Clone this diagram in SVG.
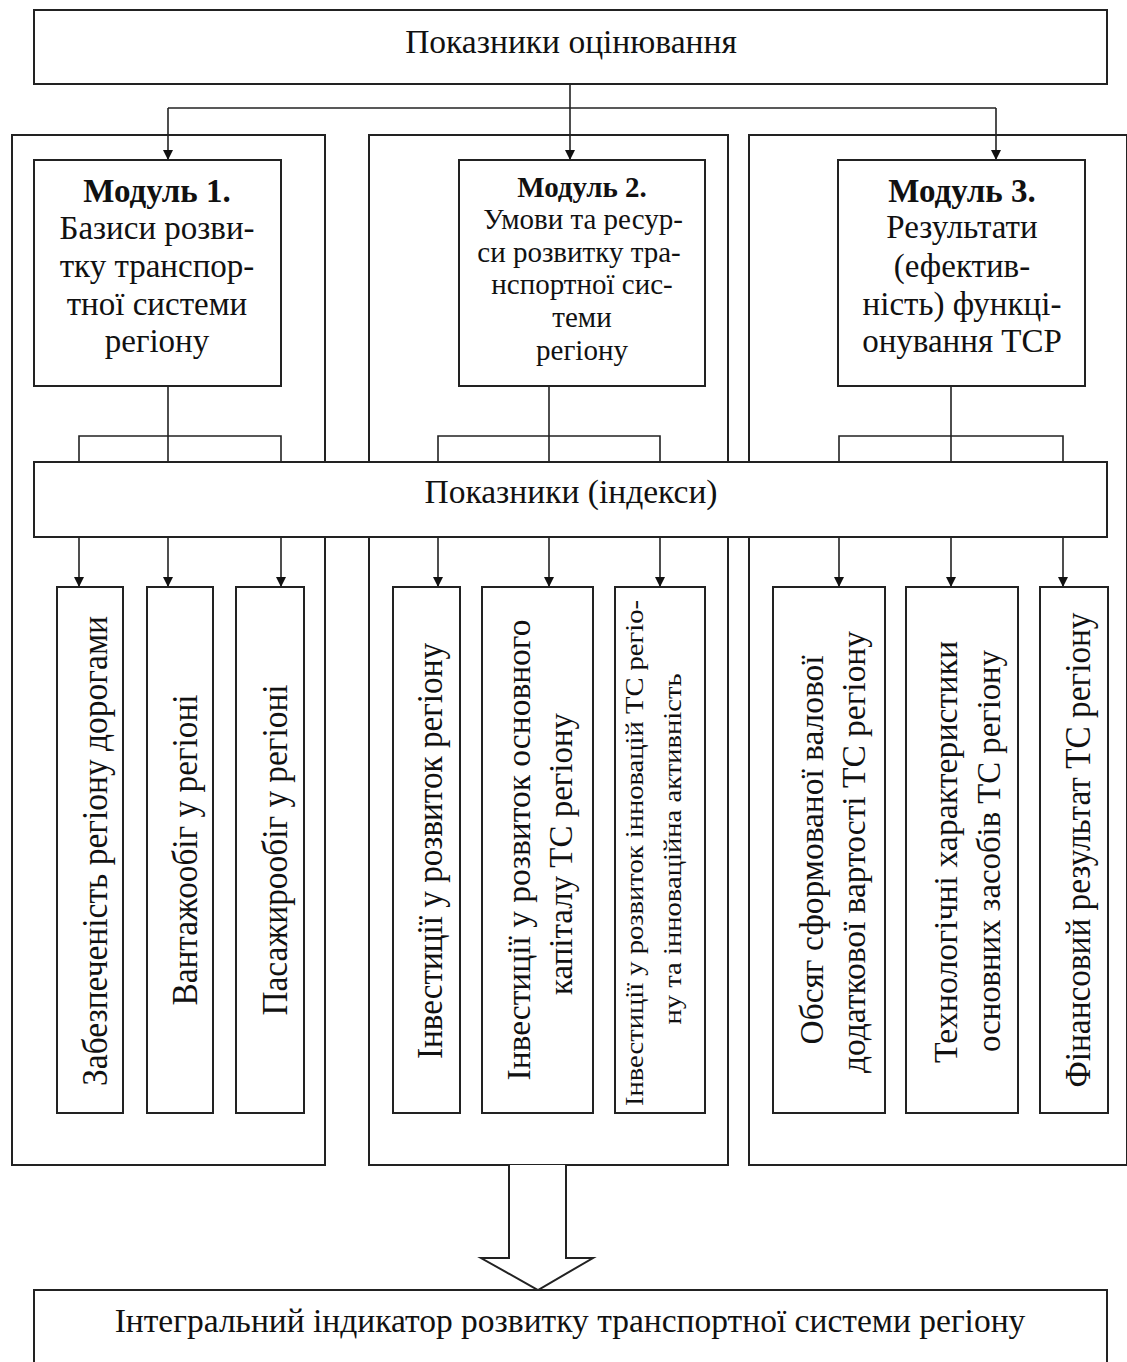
<svg xmlns="http://www.w3.org/2000/svg" width="1127" height="1362" viewBox="0 0 1127 1362">
<style>
.box{fill:#fff;stroke:#222;stroke-width:2}
.panel{fill:none;stroke:#222;stroke-width:2}
.ln{fill:none;stroke:#222;stroke-width:1.6}
text{font-family:"Liberation Serif","Times New Roman",serif;fill:#111}
.h{text-anchor:middle}
.b{font-weight:bold}
.v{text-anchor:middle}
.big{font-size:33.5px}
.m13{font-size:33px}
.m2{font-size:29px}
</style>
<defs>
<marker id="ah" markerUnits="userSpaceOnUse" markerWidth="10" markerHeight="12" refX="10" refY="5" orient="auto">
<path d="M0,0 L10,5 L0,10 z" fill="#111"/>
</marker>
</defs>
<rect width="1127" height="1362" fill="#fff"/>

<g id="panels">
<rect class="panel" x="12" y="135" width="313" height="1030"/>
<rect class="panel" x="369" y="135" width="359" height="1030"/>
<rect class="panel" x="749" y="135" width="378" height="1030"/>
</g>

<g id="connectors">
<path class="ln" d="M570,84 V160" marker-end="url(#ah)"/>
<path class="ln" d="M168,108 H996"/>
<path class="ln" d="M168,108 V160" marker-end="url(#ah)"/>
<path class="ln" d="M996,108 V160" marker-end="url(#ah)"/>
<path class="ln" d="M168,386 V462 M79,462 V436 H281 V462"/>
<path class="ln" d="M549,386 V462 M438,462 V436 H660 V462"/>
<path class="ln" d="M951,386 V462 M839,462 V436 H1063 V462"/>
<path class="ln" d="M79,537 V587" marker-end="url(#ah)"/>
<path class="ln" d="M168,537 V587" marker-end="url(#ah)"/>
<path class="ln" d="M281,537 V587" marker-end="url(#ah)"/>
<path class="ln" d="M438,537 V587" marker-end="url(#ah)"/>
<path class="ln" d="M549,537 V587" marker-end="url(#ah)"/>
<path class="ln" d="M660,537 V587" marker-end="url(#ah)"/>
<path class="ln" d="M839,537 V587" marker-end="url(#ah)"/>
<path class="ln" d="M951,537 V587" marker-end="url(#ah)"/>
<path class="ln" d="M1063,537 V587" marker-end="url(#ah)"/>
<path d="M509,1165 V1258 H481 L538,1290 L593,1258 H566 V1165" fill="#fff" stroke="#222" stroke-width="2"/>
</g>

<g id="top">
<rect class="box" x="34" y="10" width="1073" height="74"/>
<text class="h big" x="571" y="53">Показники оцінювання</text>
</g>

<g id="module1">
<rect class="box" x="34" y="160" width="247" height="226"/>
<text class="h b m13" x="157" y="202">Модуль 1.</text>
<text class="h m13" x="157" y="239">Базиси розви-</text>
<text class="h m13" x="157" y="277">тку транспор-</text>
<text class="h m13" x="157" y="315">тної системи</text>
<text class="h m13" x="157" y="352">регіону</text>
</g>

<g id="module2">
<rect class="box" x="459" y="160" width="246" height="226"/>
<text class="h b m2" x="582" y="197">Модуль 2.</text>
<text class="h m2" x="583" y="229">Умови та ресур-</text>
<text class="h m2" x="579" y="262">си розвитку тра-</text>
<text class="h m2" x="582" y="294">нспортної сис-</text>
<text class="h m2" x="582" y="327">теми</text>
<text class="h m2" x="582" y="360">регіону</text>
</g>

<g id="module3">
<rect class="box" x="838" y="160" width="247" height="226"/>
<text class="h b m13" x="962" y="202">Модуль 3.</text>
<text class="h m13" x="962" y="238">Результати</text>
<text class="h m13" x="962" y="277">(ефектив-</text>
<text class="h m13" x="962" y="315">ність) функці-</text>
<text class="h m13" x="962" y="352">онування ТСР</text>
</g>

<g id="indices">
<rect class="box" x="34" y="462" width="1073" height="75"/>
<text class="h big" x="571" y="503">Показники (індекси)</text>
</g>

<g id="m1b1">
<rect class="box" x="57" y="587" width="66" height="526"/>
<text class="v" transform="translate(107,851) rotate(-90)" font-size="36" textLength="470" lengthAdjust="spacingAndGlyphs">Забезпеченість регіону дорогами</text>
</g>
<g id="m1b2">
<rect class="box" x="147" y="587" width="66" height="526"/>
<text class="v" transform="translate(197,850) rotate(-90)" font-size="36" textLength="311" lengthAdjust="spacingAndGlyphs">Вантажообіг у регіоні</text>
</g>
<g id="m1b3">
<rect class="box" x="236" y="587" width="68" height="526"/>
<text class="v" transform="translate(287,850) rotate(-90)" font-size="36" textLength="331" lengthAdjust="spacingAndGlyphs">Пасажирообіг у регіоні</text>
</g>

<g id="m2b1">
<rect class="box" x="393" y="587" width="67" height="526"/>
<text class="v" transform="translate(442,851) rotate(-90)" font-size="36" textLength="416" lengthAdjust="spacingAndGlyphs">Інвестиції у розвиток регіону</text>
</g>
<g id="m2b2">
<rect class="box" x="482" y="587" width="111" height="526"/>
<text class="v" transform="translate(530,850) rotate(-90)" font-size="33" textLength="461" lengthAdjust="spacingAndGlyphs">Інвестиції у розвиток основного</text>
<text class="v" transform="translate(572,854) rotate(-90)" font-size="33" textLength="282" lengthAdjust="spacingAndGlyphs">капіталу ТС регіону</text>
</g>
<g id="m2b3">
<rect class="box" x="615" y="587" width="90" height="526"/>
<text class="v" transform="translate(643,853) rotate(-90)" font-size="25" textLength="506" lengthAdjust="spacingAndGlyphs">Інвестиції у розвиток інновацій ТС регіо-</text>
<text class="v" transform="translate(681,849) rotate(-90)" font-size="25" textLength="351" lengthAdjust="spacingAndGlyphs">ну та інноваційна активність</text>
</g>

<g id="m3b1">
<rect class="box" x="773" y="587" width="112" height="526"/>
<text class="v" transform="translate(823,850) rotate(-90)" font-size="33" textLength="389" lengthAdjust="spacingAndGlyphs">Обсяг сформованої валової</text>
<text class="v" transform="translate(865,852) rotate(-90)" font-size="33" textLength="442" lengthAdjust="spacingAndGlyphs">додаткової вартості ТС регіону</text>
</g>
<g id="m3b2">
<rect class="box" x="906" y="587" width="112" height="526"/>
<text class="v" transform="translate(957,852) rotate(-90)" font-size="33" textLength="422" lengthAdjust="spacingAndGlyphs">Технологічні характеристики</text>
<text class="v" transform="translate(1000,851) rotate(-90)" font-size="33" textLength="402" lengthAdjust="spacingAndGlyphs">основних засобів ТС регіону</text>
</g>
<g id="m3b3">
<rect class="box" x="1040" y="587" width="68" height="526"/>
<text class="v" transform="translate(1090,850) rotate(-90)" font-size="36" textLength="475" lengthAdjust="spacingAndGlyphs">Фінансовий результат ТС регіону</text>
</g>

<g id="integral">
<rect class="box" x="34" y="1290" width="1073" height="90"/>
<text class="h big" x="570" y="1332">Інтегральний індикатор розвитку транспортної системи регіону</text>
</g>
</svg>
